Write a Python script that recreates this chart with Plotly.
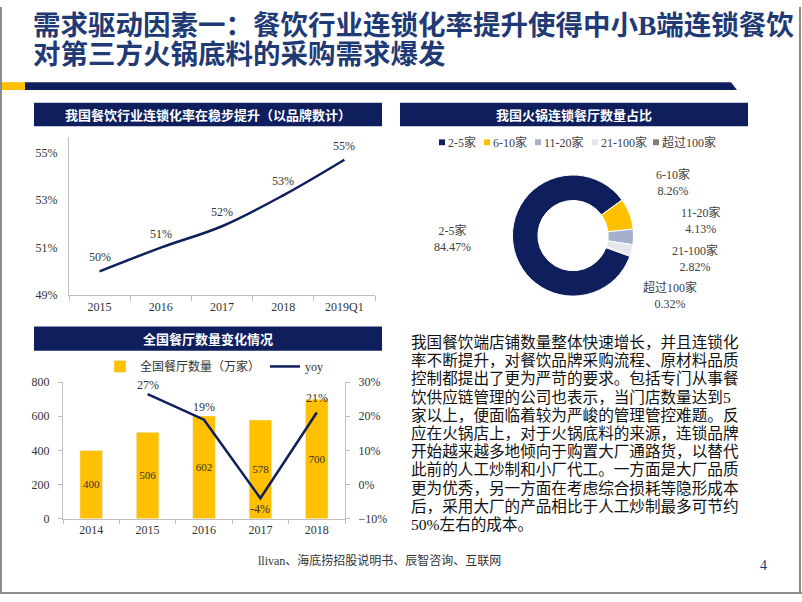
import plotly.graph_objects as go

# ---------------- data ----------------
rate_periods = ["2015", "2016", "2017", "2018", "2019Q1"]
rate_values = [50.0, 51.0, 51.9, 53.2, 54.7]
rate_labels = ["50%", "51%", "52%", "53%", "55%"]
rate_ticks = [49, 51, 53, 55]

share_labels = ["2-5家", "6-10家", "11-20家", "21-100家", "超过100家"]
share_values = [84.47, 8.26, 4.13, 2.82, 0.32]

years = ["2014", "2015", "2016", "2017", "2018"]
restaurant_counts = [400, 506, 602, 578, 700]
yoy_years = ["2015", "2016", "2017", "2018"]
yoy_values = [26.5, 19.0, -4.0, 21.1]
yoy_labels = ["27%", "19%", "-4%", "21%"]

title_lines = ["需求驱动因素一：餐饮行业连锁化率提升使得中小B端连锁餐饮",
               "对第三方火锅底料的采购需求爆发"]
panel_titles = ["我国餐饮行业连锁化率在稳步提升（以品牌数计）",
                "我国火锅连锁餐厅数量占比",
                "全国餐厅数量变化情况"]
body_lines = [
    "我国餐饮端店铺数量整体快速增长，并且连锁化",
    "率不断提升，对餐饮品牌采购流程、原材料品质",
    "控制都提出了更为严苛的要求。包括专门从事餐",
    "饮供应链管理的公司也表示，当门店数量达到5",
    "家以上，便面临着较为严峻的管理管控难题。反",
    "应在火锅店上，对于火锅底料的来源，连锁品牌",
    "开始越来越多地倾向于购置大厂通路货，以替代",
    "此前的人工炒制和小厂代工。一方面是大厂品质",
    "更为优秀，另一方面在考虑综合损耗等隐形成本",
    "后，采用大厂的产品相比于人工炒制最多可节约",
    "50%左右的成本。",
]
source_text = "llivan、海底捞招股说明书、辰智咨询、互联网"
page_no = "4"

# ---------------- style ----------------
W, H = 802, 602
def X(px): return px / W
def Y(py): return 1 - py / H

NAVY = "#0F1F5E"
TITLE_C = "#1F3A75"
YELLOW = "#FFC000"
share_colors = [NAVY, YELLOW, "#A5B0CE", "#E6E7EC", "#7F7F7F"]
FONT = "Liberation Serif, Noto Sans CJK SC"
CJK = "Noto Sans CJK SC"
TXT = "#333333"
AX = "#BFBFBF"

fig = go.Figure()

# line chart (chain rate)
fig.add_trace(go.Scatter(
    x=rate_periods, y=rate_values, mode="lines",
    line=dict(color=NAVY, width=2.5, shape="spline"), cliponaxis=False,
    showlegend=False, hoverinfo="skip", xaxis="x", yaxis="y"))

# donut
fig.add_trace(go.Pie(
    labels=share_labels, values=share_values, sort=False, direction="clockwise",
    rotation=110, hole=0.58, textinfo="none", hoverinfo="skip",
    marker=dict(colors=share_colors, line=dict(color="white", width=1)),
    domain=dict(x=[X(511), X(635)], y=[Y(296), Y(172)]), showlegend=False))

# bars
fig.add_trace(go.Bar(
    x=years, y=restaurant_counts, name="全国餐厅数量（万家）",
    marker=dict(color=YELLOW), text=[str(v) for v in restaurant_counts],
    textposition="inside", insidetextanchor="middle", textangle=0,
    textfont=dict(family=FONT, size=12, color=TXT),
    hoverinfo="skip", xaxis="x2", yaxis="y2"))

fig.add_trace(go.Scatter(
    x=yoy_years, y=yoy_values, mode="lines", name="yoy",
    line=dict(color=NAVY, width=2.5), cliponaxis=False,
    hoverinfo="skip", xaxis="x2", yaxis="y3"))

axis_common = dict(showgrid=False, zeroline=False, showline=True, linecolor=AX,
                   linewidth=1, tickfont=dict(family=FONT, size=12, color=TXT))

fig.update_layout(
    width=W, height=H, margin=dict(l=0, r=0, t=0, b=0),
    paper_bgcolor="white", plot_bgcolor="rgba(0,0,0,0)",
    font=dict(family=FONT, color=TXT),
    bargap=0.6,
    xaxis=dict(domain=[X(69), X(375)], type="category", range=[-0.5, 4.5],
               ticks="outside", tickson="boundaries", ticklen=5, tickcolor=AX,
               anchor="y", **axis_common),
    yaxis=dict(domain=[Y(295), Y(133)], range=[49, 55.66], tickvals=rate_ticks,
               ticktext=[f"{t}%" for t in rate_ticks], ticks="", ticklabelstandoff=8,
               anchor="x", **axis_common),
    xaxis2=dict(domain=[X(63), X(345)], type="category", range=[-0.5, 4.5],
                ticks="outside", tickson="boundaries", ticklen=4, tickcolor=AX,
                anchor="y2", **axis_common),
    yaxis2=dict(domain=[Y(524), Y(384)], range=[0, 800], dtick=200,
                ticks="outside", ticklen=4, tickcolor=AX, ticklabelstandoff=6,
                anchor="x2", **axis_common),
    yaxis3=dict(range=[-10, 30], dtick=10, ticksuffix="%", overlaying="y2",
                side="right", anchor="x2", ticks="outside", ticklen=4, tickcolor=AX,
                ticklabelstandoff=6, **axis_common),
    legend=dict(orientation="h", x=X(100), y=Y(368), xanchor="left", yanchor="middle",
                font=dict(family=FONT, size=12, color=TXT), bgcolor="rgba(0,0,0,0)",
                itemwidth=30, traceorder="normal"),
)

shapes = []
ann = []

# data labels on the line charts (category index positions)
for i, (yv, lab) in enumerate(zip(rate_values, rate_labels)):
    ann.append(dict(text=lab, x=i, y=yv, xref="x", yref="y", showarrow=False,
                    yshift=14, font=dict(family=FONT, size=12, color=TXT)))
yoy_shift = [9, 13, -11, 14]
for xv, yv, lab, s in zip(yoy_years, yoy_values, yoy_labels, yoy_shift):
    ann.append(dict(text=lab, x=years.index(xv), y=yv, xref="x2", yref="y3",
                    showarrow=False, yshift=s,
                    font=dict(family=FONT, size=12, color=TXT)))

# top decoration bar
shapes.append(dict(type="rect", xref="paper", yref="paper", x0=X(0), x1=X(25),
                   y0=Y(85), y1=Y(77), fillcolor=YELLOW, line=dict(width=0)))
shapes.append(dict(type="path", xref="paper", yref="paper",
                   path=f"M {X(25)},{Y(77)} L {X(731)},{Y(77)} L {X(737)},{Y(85)} L {X(25)},{Y(85)} Z",
                   fillcolor=NAVY, line=dict(width=0)))
# page border
for (x0, y0, x1, y1) in [(1, 0, 1, 600), (800, 0, 800, 600), (0, 600, 802, 600)]:
    shapes.append(dict(type="line", xref="paper", yref="paper", x0=X(x0), x1=X(x1),
                       y0=Y(y0), y1=Y(y1), line=dict(color="#8C8C8C", width=2)))

# title (two separate lines; serif primary font keeps line boxes compact)
for i, t in enumerate(title_lines):
    ann.append(dict(text=t, x=X(31), y=Y(18.5 + 30.5 * i), xref="paper", yref="paper",
                    xanchor="left", yanchor="middle", align="left", showarrow=False,
                    font=dict(family=FONT, size=27.5, color=TITLE_C, weight="bold")))

# panel headers
headers = [(34, 382, 98, 122), (400, 748, 98, 122), (34, 382, 327, 352)]
for (x0, x1, y0, y1), t in zip(headers, panel_titles):
    shapes.append(dict(type="rect", xref="paper", yref="paper", x0=X(x0), x1=X(x1),
                       y0=Y(y1), y1=Y(y0), fillcolor=NAVY, line=dict(width=0)))
    ann.append(dict(text=t, x=X((x0 + x1) / 2), y=Y((y0 + y1) / 2), xref="paper",
                    yref="paper", xanchor="center", yanchor="middle", showarrow=False,
                    font=dict(family=CJK, size=13, color="white", weight="bold")))

# donut legend (manual)
leg_x = [439, 484, 535, 592, 653]
for lx, lab, col in zip(leg_x, share_labels, share_colors):
    shapes.append(dict(type="rect", xref="paper", yref="paper", x0=X(lx), x1=X(lx + 6),
                       y0=Y(141.5), y1=Y(135.5), fillcolor=col, line=dict(width=0)))
    ann.append(dict(text=lab, x=X(lx + 7), y=Y(138.5), xref="paper", yref="paper",
                    xanchor="left", yanchor="middle", showarrow=False,
                    font=dict(family=FONT, size=12, color="#404040")))

# donut labels
lab_pos = [(453, 237), (673, 180), (701, 219), (695, 257), (670, 295)]
for (lx, ly), lab, v in zip(lab_pos, share_labels, share_values):
    ann.append(dict(text=f"{lab}<br>{v:.2f}%", x=X(lx), y=Y(ly), xref="paper",
                    yref="paper", xanchor="center", yanchor="middle", showarrow=False,
                    align="center", font=dict(family=FONT, size=12, color="#404040")))

# body text
for i, line in enumerate(body_lines):
    ann.append(dict(text=line, x=X(409), y=Y(343.3 + i * 18.67), xref="paper",
                    yref="paper", xanchor="left", yanchor="middle", showarrow=False,
                    font=dict(family=FONT, size=15.6, color="#111111")))

# footer
ann.append(dict(text=source_text, x=X(256), y=Y(567), xref="paper", yref="paper",
                xanchor="left", yanchor="middle", showarrow=False,
                font=dict(family=FONT, size=12, color="#333333")))
ann.append(dict(text=page_no, x=X(763), y=Y(572), xref="paper", yref="paper",
                xanchor="center", yanchor="middle", showarrow=False,
                font=dict(family=FONT, size=14, color=TITLE_C)))

fig.update_layout(shapes=shapes, annotations=ann)
fig.write_html(
    "out.html",
    config={"displayModeBar": False},
    post_script="document.body.style.margin='0';"
                "document.body.style.overflow='hidden';"
                "document.documentElement.style.overflow='hidden';")
